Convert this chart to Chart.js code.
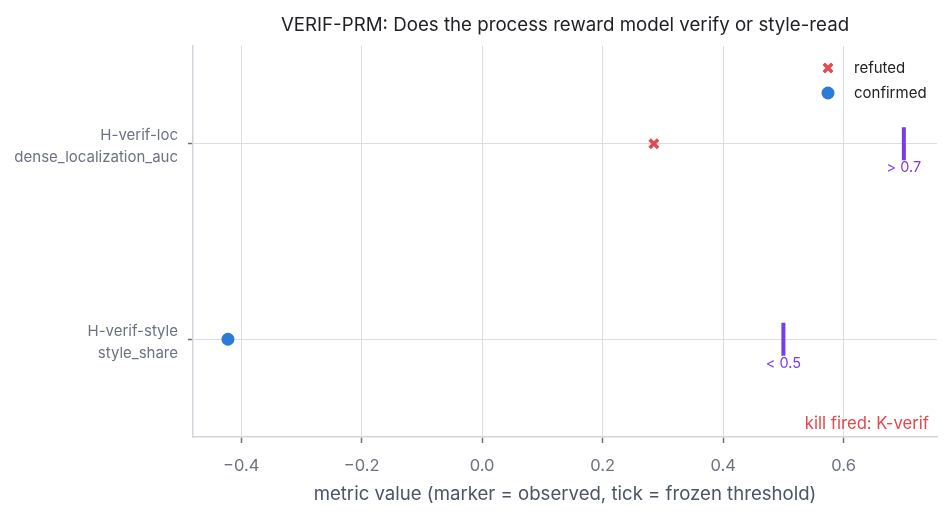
<!DOCTYPE html>
<html>
<head>
<meta charset="utf-8">
<script src="https://cdn.jsdelivr.net/npm/chart.js@4.4.1/dist/chart.umd.min.js"></script>
<style>
html,body{margin:0;padding:0;background:#fff;}
#wrap{width:952px;height:521px;}
</style>
</head>
<body>
<div id="wrap"><canvas id="c" width="952" height="521"></canvas></div>
<script>
const hypotheses = ['H-verif-loc', 'H-verif-style'];
const metrics = ['dense_localization_auc', 'style_share'];
const observed = [0.285, -0.422];
const verdicts = ['refuted', 'confirmed'];
const thresholds = [0.7, 0.5];
const thresholdLabels = ['> 0.7', '< 0.5'];
const xTicks = [-0.4, -0.2, 0.0, 0.2, 0.4, 0.6];
const titleText = 'VERIF-PRM: Does the process reward model verify or style-read';
const xTitle = 'metric value (marker = observed, tick = frozen threshold)';
const killText = 'kill fired: K-verif';

const RED = '#e5484d', BLUE = '#2b7bd9', PURPLE = '#7c3aed';
const FONT = 'Inter, "Noto Sans", sans-serif';

const refutedPts = [], confirmedPts = [], threshPts = [];
observed.forEach((v, i) => {
  (verdicts[i] === 'refuted' ? refutedPts : confirmedPts).push({x: v, y: i});
  threshPts.push({x: thresholds[i], y: i});
});

const styles = {
  refuted: {pointStyle: 'crossRot', radius: 6, borderWidth: 3.5, color: RED},
  confirmed: {pointStyle: 'circle', radius: 6.5, borderWidth: 0, color: BLUE}
};

const extras = {
  id: 'extras',
  afterDraw(chart) {
    const ctx = chart.ctx, ca = chart.chartArea;
    const xs = chart.scales.x, ys = chart.scales.y;
    ctx.save();
    // title
    ctx.fillStyle = '#1f1f24';
    ctx.font = '18.7px ' + FONT;
    ctx.textAlign = 'center';
    ctx.textBaseline = 'middle';
    ctx.fillText(titleText, (ca.left + ca.right) / 2, 25);
    // threshold labels
    ctx.fillStyle = PURPLE;
    ctx.font = '14.5px ' + FONT;
    thresholds.forEach((t, i) => {
      ctx.fillText(thresholdLabels[i], xs.getPixelForValue(t), ys.getPixelForValue(i) + 24);
    });
    // legend
    ['refuted', 'confirmed'].forEach((name, i) => {
      const s = styles[name];
      const px = ca.right - 109, py = ca.top + 22 + i * 25;
      ctx.fillStyle = s.color; ctx.strokeStyle = s.color; ctx.lineWidth = s.borderWidth;
      Chart.helpers.drawPoint(ctx, {pointStyle: s.pointStyle, radius: s.radius, rotation: 0, borderWidth: s.borderWidth}, px, py);
      ctx.fillStyle = '#222';
      ctx.font = '15px ' + FONT;
      ctx.textAlign = 'left';
      ctx.textBaseline = 'middle';
      ctx.fillText(name, px + 26, py);
    });
    // kill text
    ctx.fillStyle = RED;
    ctx.font = '16.7px ' + FONT;
    ctx.textAlign = 'right';
    ctx.textBaseline = 'middle';
    ctx.fillText(killText, ca.right - 8, ca.bottom - 13);
    ctx.restore();
  }
};

new Chart(document.getElementById('c'), {
  type: 'scatter',
  data: {
    datasets: [
      {label: 'threshold', data: threshPts, pointStyle: 'line', rotation: 90, radius: 16.5, hoverRadius: 16.5,
       borderWidth: 4, borderColor: PURPLE, backgroundColor: PURPLE},
      {label: 'refuted', data: refutedPts, pointStyle: 'crossRot', radius: 6, hoverRadius: 6,
       borderWidth: 3.5, borderColor: RED, backgroundColor: RED},
      {label: 'confirmed', data: confirmedPts, pointStyle: 'circle', radius: 6.5, hoverRadius: 6.5,
       borderWidth: 0, borderColor: BLUE, backgroundColor: BLUE}
    ]
  },
  options: {
    responsive: false,
    animation: false,
    layout: {autoPadding: false, padding: {left: 0, right: 15, top: 46, bottom: 0}},
    plugins: {legend: {display: false}, title: {display: false}, tooltip: {enabled: false}},
    scales: {
      x: {
        type: 'linear', min: -0.48, max: 0.755,
        afterBuildTicks: s => { s.ticks = xTicks.map(v => ({value: v})); },
        afterFit: s => { s.height = 84; s.paddingLeft = 0; s.paddingRight = 0; },
        ticks: {
          color: '#6b7280', font: {family: FONT, size: 16.5}, padding: 13,
          callback: v => (v < -1e-9 ? '\u2212' : '') + Math.abs(v).toFixed(1)
        },
        grid: {color: '#dcdce4', lineWidth: 1, tickColor: '#6b7280', tickLength: 6, tickWidth: 1.5},
        border: {color: '#d4d4dc', width: 1.5},
        title: {display: true, text: xTitle, color: '#4b5563', font: {family: FONT, size: 18.6}, padding: {top: 4, bottom: 15}}
      },
      y: {
        type: 'linear', min: -0.5, max: 1.5, reverse: true,
        afterBuildTicks: s => { s.ticks = hypotheses.map((h, i) => ({value: i})); },
        afterFit: s => { s.width = 193; s.paddingTop = 0; s.paddingBottom = 0; },
        ticks: {
          color: '#6b7280', font: {family: FONT, size: 15, lineHeight: 1.45}, padding: 10, labelOffset: 3,
          callback: v => [hypotheses[v], metrics[v]]
        },
        grid: {color: '#dcdce4', lineWidth: 1, tickColor: '#6b7280', tickLength: 5, tickWidth: 1.5},
        border: {color: '#d4d4dc', width: 1.5}
      }
    }
  },
  plugins: [extras]
});
</script>
</body>
</html>
